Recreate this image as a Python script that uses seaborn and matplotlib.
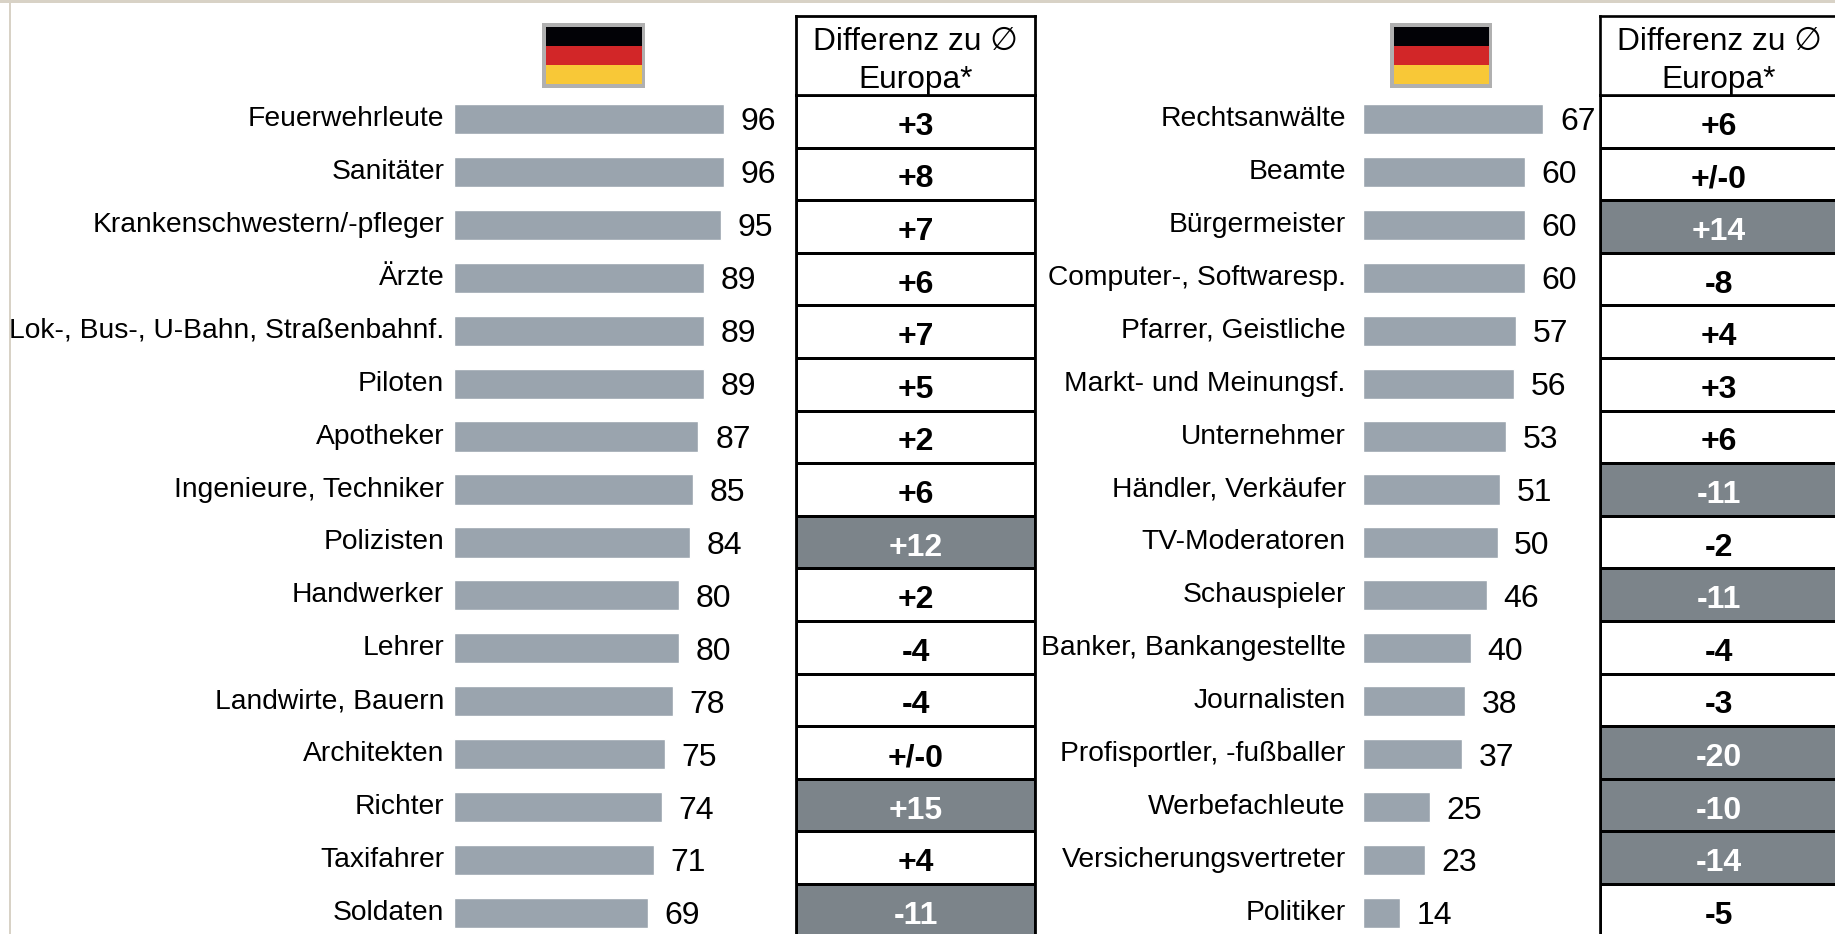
import matplotlib
matplotlib.use("Agg")
import matplotlib.pyplot as plt
from matplotlib.colors import ListedColormap
from matplotlib.patches import Rectangle
import numpy as np
import pandas as pd
import seaborn as sns

berufe_links = ["Feuerwehrleute", "Sanitäter", "Krankenschwestern/-pfleger", "Ärzte",
                "Lok-, Bus-, U-Bahn, Straßenbahnf.", "Piloten", "Apotheker", "Ingenieure, Techniker",
                "Polizisten", "Handwerker", "Lehrer", "Landwirte, Bauern", "Architekten", "Richter",
                "Taxifahrer", "Soldaten"]
werte_links = [96, 96, 95, 89, 89, 89, 87, 85, 84, 80, 80, 78, 75, 74, 71, 69]
diff_links = [3, 8, 7, 6, 7, 5, 2, 6, 12, 2, -4, -4, 0, 15, 4, -11]

berufe_rechts = ["Rechtsanwälte", "Beamte", "Bürgermeister", "Computer-, Softwaresp.",
                 "Pfarrer, Geistliche", "Markt- und Meinungsf.", "Unternehmer", "Händler, Verkäufer",
                 "TV-Moderatoren", "Schauspieler", "Banker, Bankangestellte", "Journalisten",
                 "Profisportler, -fußballer", "Werbefachleute", "Versicherungsvertreter", "Politiker"]
werte_rechts = [67, 60, 60, 60, 57, 56, 53, 51, 50, 46, 40, 38, 37, 25, 23, 14]
diff_rechts = [6, 0, 14, -8, 4, 3, 6, -11, -2, -11, -4, -3, -20, -10, -14, -5]

kopf = "Differenz zu ∅\nEuropa*"

W, H = 1835, 934
sns.set_theme(style="white")
plt.rcParams["font.family"] = ["Liberation Sans", "DejaVu Sans"]
fig = plt.figure(figsize=(W / 100, H / 100), dpi=100, facecolor="white")

BAR = "#9aa4ae"
DARK = "#7c848a"
ROW = 52.93
TAB_ROW = 52.6


def axes_px(x0, x1, y0, y1):
    return fig.add_axes([x0 / W, 1 - y1 / H, (x1 - x0) / W, (y1 - y0) / H])


def rect_px(x0, y0, x1, y1, color):
    fig.add_artist(Rectangle((x0 / W, 1 - y1 / H), (x1 - x0) / W, (y1 - y0) / H,
                             transform=fig.transFigure, facecolor=color, edgecolor="none"))


def panel(labels, values, diffs, bar_x0, px_per_unit, tab_x0, tab_x1, flag, lw, label_pad):
    top = 119 - ROW / 2
    ax = axes_px(bar_x0, bar_x0 + 100 * px_per_unit, top, top + 16 * ROW)
    df = pd.DataFrame({"beruf": labels, "wert": values})
    sns.barplot(data=df, x="wert", y="beruf", orient="h", color=BAR, saturation=1,
                width=0.57, ax=ax)
    ax.set_xlim(0, 100)
    ax.set_ylim(15.5, -0.5)
    ax.set_xlabel("")
    ax.set_ylabel("")
    ax.set_xticks([])
    sns.despine(ax=ax, left=True, bottom=True)
    ax.patch.set_alpha(0)
    ax.tick_params(axis="y", length=0, pad=label_pad, labelsize=20.3, labelcolor="black")
    for lab in ax.get_yticklabels():
        lab.set_va("center")
    labs = ax.bar_label(ax.containers[0], padding=12, fontsize=23, color="black")
    for t in labs:
        t.set_va("center")
        t.xyann = (t.xyann[0], -2.5)

    # Differenz-Tabelle
    tab_top = 95
    tx = axes_px(tab_x0, tab_x1, tab_top, tab_top + 16 * TAB_ROW)
    d = np.array(diffs)
    mask = (np.abs(d) >= 10).astype(int).reshape(-1, 1)
    sns.heatmap(mask, ax=tx, cmap=ListedColormap(["white", DARK]), vmin=0, vmax=1, cbar=False,
                linewidths=lw, linecolor="black", xticklabels=False, yticklabels=False)
    for sp in tx.spines.values():
        sp.set_visible(True)
        sp.set_color("black")
        sp.set_linewidth(lw)
    for i, v in enumerate(diffs):
        s = "+/-0" if v == 0 else f"{v:+d}"
        tx.annotate(s, (0.5, i + 0.5), xytext=(0, -4), textcoords="offset points",
                    ha="center", va="center", fontsize=23, fontweight="bold",
                    color="white" if mask[i, 0] else "black")

    # Kopfzeile
    hx = axes_px(tab_x0, tab_x1, 16, tab_top)
    hx.set_xticks([])
    hx.set_yticks([])
    hx.set_facecolor("white")
    for sp in hx.spines.values():
        sp.set_visible(True)
        sp.set_color("black")
        sp.set_linewidth(lw)
    hx.text(0.5, 0.43, kopf, transform=hx.transAxes, ha="center", va="center",
            fontsize=22.8, linespacing=1.33, color="black")

    # Flagge
    fx0, fx1 = flag
    rect_px(fx0, 23, fx1, 88, "#b0b0b0")
    i0, i1 = fx0 + 4, fx1 - 3
    rect_px(i0, 27, i1, 46, "#020206")
    rect_px(i0, 46, i1, 65, "#d22628")
    rect_px(i0, 65, i1, 84, "#f8c837")


panel(berufe_links, werte_links, diff_links, 454, 2.81, 796, 1035, (542, 645), 2.0, 7)
panel(berufe_rechts, werte_rechts, diff_rechts, 1362.5, 2.70, 1600, 1838, (1390, 1492), 1.9, 12)

# Rahmenlinien der Seite
rect_px(0, 0, W, 2.5, "#d8d2c6")
rect_px(9, 0, 11, H, "#d8d2c6")

fig.savefig("out.png", dpi=100, facecolor="white")
